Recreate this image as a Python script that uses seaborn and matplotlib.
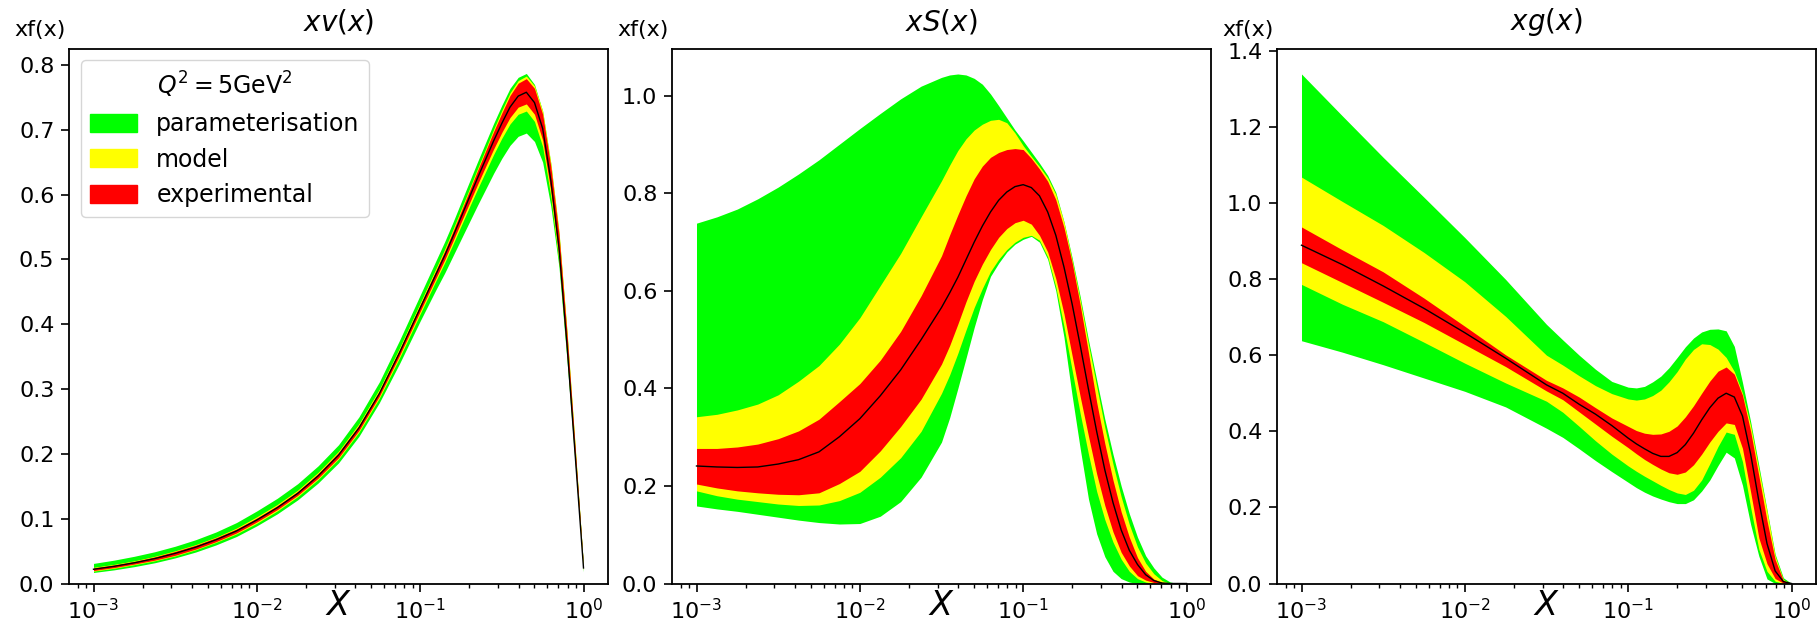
import matplotlib
matplotlib.use("Agg")
import matplotlib.pyplot as plt
from matplotlib.patches import Patch
import seaborn as sns

# ---------------- data ----------------
# panel 1 : xv(x)  -- central value and band widths above / below it
x_v = [0.001, 0.001334, 0.001778, 0.002371, 0.003162, 0.004217, 0.005623, 0.007499, 0.01,
       0.01334, 0.01778, 0.02371, 0.03162, 0.04217, 0.05623, 0.07499, 0.1,
       0.1122, 0.1259, 0.1413, 0.1585, 0.1778, 0.1995, 0.2239, 0.2512, 0.2818, 0.3162,
       0.3548, 0.3981, 0.4467, 0.5012, 0.5623, 0.631, 0.7079, 0.7943, 0.8913, 1.0]
v_center = [0.022, 0.0265, 0.032, 0.0385, 0.0465, 0.056, 0.0675, 0.081, 0.098, 0.117, 0.139,
            0.166, 0.198, 0.240, 0.293, 0.357, 0.425,
            0.452, 0.479, 0.506, 0.535, 0.565, 0.595, 0.625, 0.654, 0.683, 0.710, 0.735,
            0.752, 0.758, 0.742, 0.702, 0.622, 0.518, 0.365, 0.195, 0.024]
v_par_up = [0.009, 0.0095, 0.010, 0.0105, 0.011, 0.0115, 0.012, 0.013, 0.014, 0.0145, 0.015,
            0.0155, 0.016, 0.017, 0.018, 0.019, 0.020,
            0.0205, 0.021, 0.0215, 0.022, 0.023, 0.024, 0.025, 0.026, 0.027, 0.028, 0.029,
            0.029, 0.029, 0.028, 0.027, 0.026, 0.024, 0.020, 0.012, 0.003]
v_mod_up = [0.003, 0.003, 0.003, 0.0035, 0.004, 0.004, 0.004, 0.0045, 0.005, 0.005, 0.005,
            0.0055, 0.006, 0.0065, 0.007, 0.0075, 0.008,
            0.0085, 0.009, 0.010, 0.011, 0.012, 0.013, 0.0145, 0.016, 0.018, 0.020, 0.022,
            0.024, 0.025, 0.026, 0.027, 0.027, 0.026, 0.022, 0.014, 0.003]
v_exp_up = [0.002, 0.002, 0.002, 0.0025, 0.003, 0.003, 0.003, 0.003, 0.003, 0.003, 0.003,
            0.0035, 0.004, 0.004, 0.004, 0.0045, 0.005,
            0.0055, 0.006, 0.007, 0.008, 0.009, 0.010, 0.0115, 0.013, 0.0145, 0.016, 0.018,
            0.020, 0.021, 0.022, 0.022, 0.021, 0.020, 0.017, 0.010, 0.002]
v_exp_dn = [0.002, 0.002, 0.002, 0.0025, 0.003, 0.003, 0.003, 0.003, 0.003, 0.003, 0.003,
            0.0035, 0.004, 0.004, 0.004, 0.0045, 0.005,
            0.0055, 0.006, 0.0065, 0.007, 0.008, 0.009, 0.010, 0.011, 0.0125, 0.014, 0.016,
            0.017, 0.018, 0.018, 0.018, 0.017, 0.016, 0.014, 0.009, 0.002]
v_mod_dn = [0.003, 0.003, 0.003, 0.0035, 0.004, 0.004, 0.004, 0.0045, 0.005, 0.005, 0.005,
            0.0055, 0.006, 0.0065, 0.007, 0.008, 0.009,
            0.0095, 0.010, 0.011, 0.012, 0.0135, 0.015, 0.017, 0.019, 0.021, 0.023, 0.026,
            0.028, 0.029, 0.029, 0.028, 0.025, 0.022, 0.019, 0.012, 0.004]
v_par_dn = [0.005, 0.0055, 0.006, 0.0065, 0.007, 0.0075, 0.008, 0.0085, 0.009, 0.0095, 0.010,
            0.011, 0.012, 0.013, 0.014, 0.017, 0.020,
            0.022, 0.024, 0.027, 0.030, 0.034, 0.038, 0.042, 0.046, 0.050, 0.054, 0.059,
            0.062, 0.063, 0.060, 0.052, 0.040, 0.030, 0.024, 0.015, 0.006]

# panel 2 : xS(x)  -- band edges
x_s = [0.001, 0.001334, 0.001778, 0.002371, 0.003162, 0.004217, 0.005623, 0.007499, 0.01,
       0.01334, 0.01778, 0.02371, 0.03162, 0.03548, 0.03981, 0.04467, 0.05012, 0.05623,
       0.0631, 0.07079, 0.07943, 0.08913, 0.1, 0.1122, 0.1259, 0.1413, 0.1585, 0.1778,
       0.1995, 0.2239, 0.2512, 0.2818, 0.3162, 0.3548, 0.3981, 0.4467, 0.5012, 0.5623,
       0.631, 0.7079, 0.7943, 0.8913, 1.0]
s_center = [0.241, 0.239, 0.238, 0.239, 0.245, 0.254, 0.270, 0.301, 0.338, 0.385, 0.438,
            0.500, 0.566, 0.596, 0.628, 0.664, 0.700, 0.733, 0.762, 0.786, 0.803, 0.814,
            0.818, 0.812, 0.795, 0.762, 0.714, 0.649, 0.573, 0.487, 0.398, 0.312, 0.233,
            0.166, 0.110, 0.068, 0.039, 0.018, 0.006, 0.001, 0.0, 0.0, 0.0]
s_par_hi = [0.739, 0.752, 0.768, 0.789, 0.813, 0.840, 0.869, 0.901, 0.933, 0.964, 0.994,
            1.020, 1.038, 1.043, 1.045, 1.043, 1.036, 1.024, 1.004, 0.980, 0.955, 0.930,
            0.908, 0.885, 0.862, 0.837, 0.802, 0.742, 0.668, 0.587, 0.499, 0.418, 0.337,
            0.265, 0.200, 0.143, 0.095, 0.057, 0.032, 0.013, 0.003, 0.0, 0.0]
s_mod_hi = [0.342, 0.347, 0.356, 0.368, 0.387, 0.415, 0.447, 0.491, 0.545, 0.611, 0.677,
            0.752, 0.826, 0.858, 0.888, 0.912, 0.930, 0.942, 0.950, 0.952, 0.945, 0.924,
            0.898, 0.876, 0.855, 0.832, 0.798, 0.741, 0.663, 0.580, 0.490, 0.405, 0.320,
            0.245, 0.178, 0.121, 0.075, 0.042, 0.020, 0.006, 0.0, 0.0, 0.0]
s_exp_hi = [0.277, 0.277, 0.280, 0.286, 0.297, 0.313, 0.337, 0.373, 0.410, 0.458, 0.517,
            0.590, 0.672, 0.715, 0.756, 0.795, 0.830, 0.856, 0.874, 0.884, 0.890, 0.892,
            0.890, 0.872, 0.850, 0.825, 0.787, 0.730, 0.658, 0.570, 0.473, 0.372, 0.287,
            0.212, 0.147, 0.095, 0.053, 0.025, 0.009, 0.002, 0.0, 0.0, 0.0]
s_exp_lo = [0.204, 0.196, 0.190, 0.186, 0.183, 0.182, 0.186, 0.205, 0.230, 0.272, 0.322,
            0.378, 0.450, 0.488, 0.532, 0.578, 0.620, 0.655, 0.685, 0.710, 0.728, 0.740,
            0.745, 0.737, 0.714, 0.680, 0.625, 0.553, 0.467, 0.382, 0.302, 0.225, 0.160,
            0.106, 0.064, 0.036, 0.016, 0.007, 0.002, 0.0, 0.0, 0.0, 0.0]
s_mod_lo = [0.190, 0.180, 0.173, 0.168, 0.163, 0.160, 0.161, 0.170, 0.187, 0.218, 0.258,
            0.312, 0.390, 0.428, 0.472, 0.520, 0.566, 0.605, 0.640, 0.665, 0.685, 0.700,
            0.710, 0.714, 0.704, 0.670, 0.608, 0.527, 0.437, 0.347, 0.265, 0.189, 0.131,
            0.085, 0.050, 0.025, 0.010, 0.003, 0.0, 0.0, 0.0, 0.0, 0.0]
s_par_lo = [0.159, 0.153, 0.148, 0.142, 0.136, 0.130, 0.125, 0.122, 0.123, 0.138, 0.168,
            0.218, 0.290, 0.340, 0.400, 0.462, 0.525, 0.582, 0.630, 0.657, 0.680, 0.696,
            0.706, 0.712, 0.700, 0.665, 0.600, 0.505, 0.385, 0.275, 0.173, 0.102, 0.055,
            0.025, 0.010, 0.003, 0.0, 0.0, 0.0, 0.0, 0.0, 0.0, 0.0]

# panel 3 : xg(x)  -- band edges
x_g = [0.001, 0.001778, 0.003162, 0.005623, 0.01, 0.01778, 0.03162, 0.03981, 0.05012, 0.0631,
       0.07943, 0.1, 0.1122, 0.1259, 0.1413, 0.1585, 0.1778, 0.1995, 0.2239, 0.2512,
       0.2818, 0.3162, 0.3548, 0.3981, 0.4467, 0.5012, 0.5623, 0.631, 0.7079, 0.7943,
       0.8913, 1.0]
g_center = [0.889, 0.838, 0.782, 0.723, 0.659, 0.592, 0.522, 0.500, 0.471, 0.445, 0.415,
            0.382, 0.367, 0.354, 0.342, 0.334, 0.334, 0.344, 0.365, 0.395, 0.430, 0.462,
            0.487, 0.500, 0.490, 0.440, 0.340, 0.217, 0.105, 0.033, 0.005, 0.0]
g_par_hi = [1.339, 1.229, 1.120, 1.015, 0.909, 0.799, 0.681, 0.640, 0.600, 0.563, 0.531,
            0.516, 0.514, 0.518, 0.530, 0.545, 0.567, 0.594, 0.622, 0.645, 0.661, 0.668,
            0.669, 0.664, 0.623, 0.528, 0.425, 0.310, 0.194, 0.077, 0.015, 0.0]
g_mod_hi = [1.068, 1.004, 0.941, 0.870, 0.793, 0.702, 0.600, 0.574, 0.546, 0.520, 0.499,
            0.485, 0.482, 0.485, 0.494, 0.508, 0.530, 0.557, 0.590, 0.615, 0.630, 0.628,
            0.616, 0.594, 0.557, 0.500, 0.415, 0.300, 0.190, 0.072, 0.010, 0.0]
g_exp_hi = [0.937, 0.877, 0.819, 0.750, 0.676, 0.601, 0.534, 0.514, 0.490, 0.462, 0.435,
            0.413, 0.402, 0.395, 0.392, 0.393, 0.400, 0.414, 0.438, 0.467, 0.500, 0.532,
            0.558, 0.569, 0.550, 0.495, 0.400, 0.283, 0.165, 0.063, 0.008, 0.0]
g_exp_lo = [0.843, 0.791, 0.739, 0.686, 0.628, 0.570, 0.506, 0.483, 0.451, 0.419, 0.387,
            0.357, 0.341, 0.326, 0.313, 0.301, 0.291, 0.287, 0.293, 0.312, 0.340, 0.372,
            0.400, 0.422, 0.418, 0.355, 0.240, 0.120, 0.052, 0.013, 0.001, 0.0]
g_mod_lo = [0.786, 0.734, 0.688, 0.634, 0.579, 0.527, 0.479, 0.450, 0.413, 0.375, 0.340,
            0.309, 0.295, 0.282, 0.270, 0.258, 0.247, 0.238, 0.234, 0.245, 0.272, 0.315,
            0.360, 0.398, 0.392, 0.320, 0.200, 0.090, 0.032, 0.006, 0.0, 0.0]
g_par_lo = [0.638, 0.608, 0.575, 0.540, 0.505, 0.464, 0.408, 0.384, 0.354, 0.323, 0.294,
            0.266, 0.252, 0.240, 0.230, 0.222, 0.215, 0.210, 0.210, 0.220, 0.243, 0.272,
            0.310, 0.345, 0.330, 0.258, 0.155, 0.072, 0.012, 0.0, 0.0, 0.0]

titles = [r"$xv(x)$", r"$xS(x)$", r"$xg(x)$"]
band_labels = ["parameterisation", "model", "experimental"]
band_colors = ["#00ff00", "#ffff00", "#ff0000"]
legend_title = r"$Q^2=5\mathrm{GeV}^2$"
ylab = "xf(x)"
xlab = r"$X$"

# band edges of panel 1 from its central value and widths
v_par_hi = [c + d for c, d in zip(v_center, v_par_up)]
v_mod_hi = [c + d for c, d in zip(v_center, v_mod_up)]
v_exp_hi = [c + d for c, d in zip(v_center, v_exp_up)]
v_exp_lo = [c - d for c, d in zip(v_center, v_exp_dn)]
v_mod_lo = [c - d for c, d in zip(v_center, v_mod_dn)]
v_par_lo = [c - d for c, d in zip(v_center, v_par_dn)]

panels = [
    (x_v, v_center, [(v_par_lo, v_par_hi), (v_mod_lo, v_mod_hi), (v_exp_lo, v_exp_hi)]),
    (x_s, s_center, [(s_par_lo, s_par_hi), (s_mod_lo, s_mod_hi), (s_exp_lo, s_exp_hi)]),
    (x_g, g_center, [(g_par_lo, g_par_hi), (g_mod_lo, g_mod_hi), (g_exp_lo, g_exp_hi)]),
]

# ---------------- figure ----------------
plt.rcParams["font.family"] = ["DejaVu Sans"]
W, H = 1817, 624
fig = plt.figure(figsize=(W / 100, H / 100), dpi=100)

lefts = [69, 672, 1277]
width = 539
bottom_px, top_px = 583.5, 48.5

for i, (xs, cen, bands) in enumerate(panels):
    ax = fig.add_axes([lefts[i] / W, (H - bottom_px) / H, width / W, (bottom_px - top_px) / H])
    ax.set_xscale("log")
    for (lo, hi), col, lab in zip(bands, band_colors, band_labels):
        ax.fill_between(xs, lo, hi, color=col, linewidth=0, label=lab)
    sns.lineplot(x=xs, y=cen, ax=ax, color="black", linewidth=1.0, legend=False,
                 estimator=None, sort=False)
    ax.set_ylim(bottom=0)
    ax.set_title(titles[i], fontsize=20, pad=13)
    ax.annotate(ylab, xy=(0, 1), xycoords="axes fraction", xytext=(-2, 6),
                textcoords="offset points", ha="right", va="bottom", fontsize=16)
    ax.set_xlabel(xlab, fontsize=24)
    ax.xaxis.set_label_coords(0.5, -0.01)
    ax.tick_params(axis="both", which="major", labelsize=16, length=5.5, width=1.2, pad=5)
    ax.tick_params(axis="both", which="minor", length=3.2, width=1.0)
    for sp in ax.spines.values():
        sp.set_linewidth(1.3)
    if i == 0:
        handles = [Patch(facecolor=c, edgecolor=c, label=l) for c, l in zip(band_colors, band_labels)]
        ax.legend(handles=handles, loc="upper left", title=legend_title,
                  fontsize=17, title_fontsize=17, borderaxespad=0.5,
                  handlelength=2.0, handleheight=0.8)

fig.savefig("out.png", dpi=100)
